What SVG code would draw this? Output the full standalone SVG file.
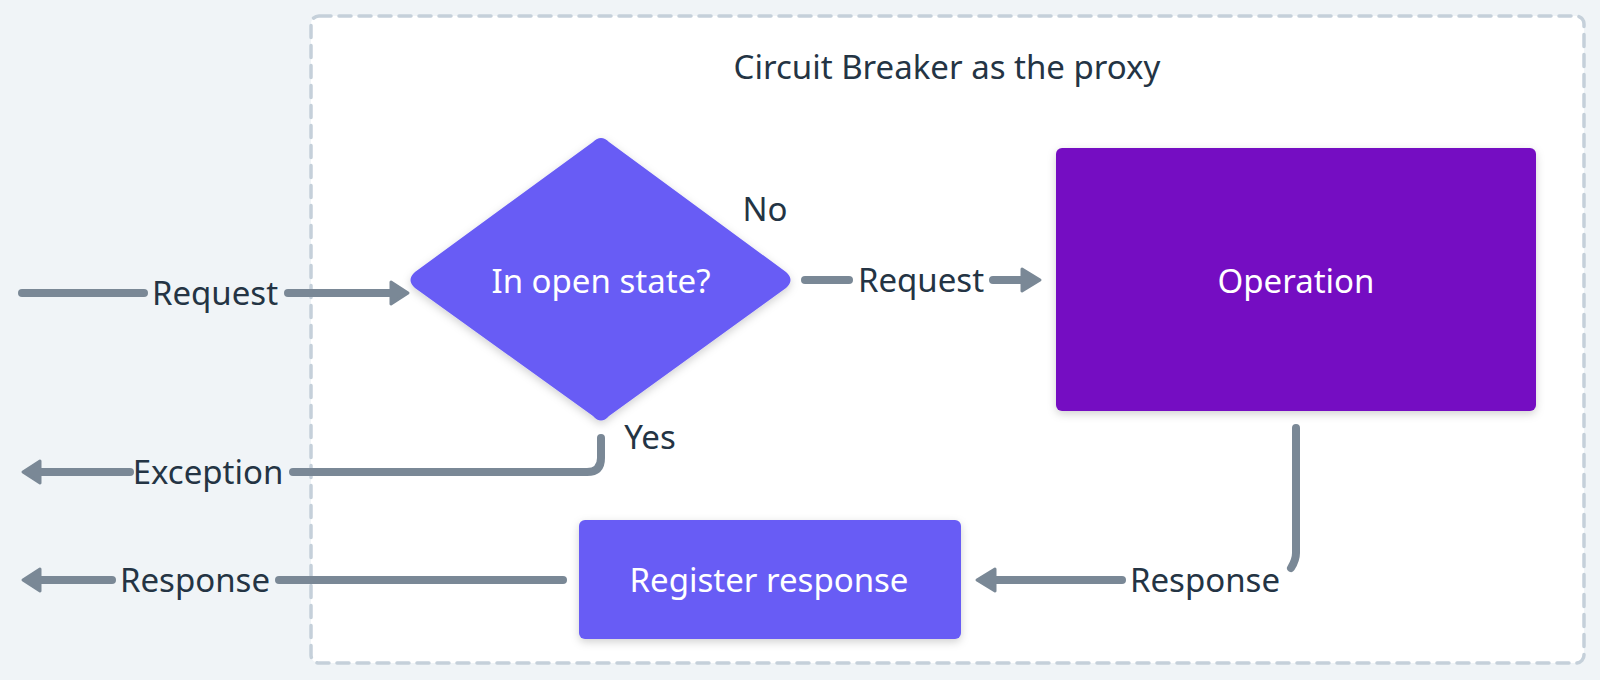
<svg xmlns="http://www.w3.org/2000/svg" width="1600" height="680" viewBox="0 0 1600 680">
<style>
.lbl{font-family:"Noto Sans","Liberation Sans",sans-serif;font-size:33px;fill:#243444;}
.ntxt{font-family:"Noto Sans","Liberation Sans",sans-serif;font-size:33px;fill:#ffffff;}
.ln{fill:none;stroke:#7a8896;stroke-width:8;stroke-linecap:round;stroke-linejoin:round;}
.ah{fill:#7a8896;stroke:#7a8896;stroke-width:3;stroke-linejoin:round;}
</style>
<defs>
<filter id="sh" x="-20%" y="-20%" width="140%" height="140%">
<feDropShadow dx="0" dy="3" stdDeviation="4" flood-color="#000" flood-opacity="0.18"/>
</filter>
</defs>
<rect width="1600" height="680" fill="#f0f4f7"/>
<g id="container">
<rect x="311" y="16" width="1273" height="647" rx="8" fill="#ffffff" stroke="#c5d0da" stroke-width="3.5" stroke-dasharray="12 8" stroke-linecap="round"/>
<text class="lbl" x="947" y="79" text-anchor="middle">Circuit Breaker as the proxy</text>
</g>
<g id="decision">
<path d="M593,142 Q601,134 609,142 L786,272 Q795,280 786,288 L609,416 Q601,425 593,416 L415,288 Q406,280 415,272 Z" fill="#675cf5" filter="url(#sh)"/>
<text class="ntxt" x="601" y="293" text-anchor="middle">In open state?</text>
</g>
<g id="operation">
<rect x="1056" y="148" width="480" height="263" rx="6" fill="#7510c2" filter="url(#sh)"/>
<text class="ntxt" x="1296" y="293" text-anchor="middle">Operation</text>
</g>
<g id="register">
<rect x="579" y="520" width="382" height="119" rx="6" fill="#675cf5" filter="url(#sh)"/>
<text class="ntxt" x="769" y="592" text-anchor="middle">Register response</text>
</g>
<g id="connectors">
<line class="ln" x1="22" y1="293" x2="144" y2="293"/>
<line class="ln" x1="288" y1="293" x2="391" y2="293"/>
<path class="ah" d="M391,282 L408,293 L391,304 Z"/>
<text class="lbl" x="215" y="305" text-anchor="middle">Request</text>

<line class="ln" x1="805" y1="280" x2="849" y2="280"/>
<line class="ln" x1="993" y1="280" x2="1022" y2="280"/>
<path class="ah" d="M1022,269 L1040,280 L1022,291 Z"/>
<text class="lbl" x="921" y="292" text-anchor="middle">Request</text>
<text class="lbl" x="765" y="221" text-anchor="middle">No</text>

<path class="ln" d="M601,438 L601,458 Q601,472 587,472 L293,472"/>
<line class="ln" x1="130" y1="472" x2="40" y2="472"/>
<path class="ah" d="M40,461 L23,472 L40,483 Z"/>
<text class="lbl" x="208" y="484" text-anchor="middle">Exception</text>
<text class="lbl" x="650" y="449" text-anchor="middle">Yes</text>

<path class="ln" d="M1296,428 L1296,553 Q1296,560 1291,568"/>
<line class="ln" x1="1122" y1="580" x2="995" y2="580"/>
<path class="ah" d="M995,569 L977,580 L995,591 Z"/>
<text class="lbl" x="1205" y="592" text-anchor="middle">Response</text>

<line class="ln" x1="563" y1="580" x2="279" y2="580"/>
<line class="ln" x1="112" y1="580" x2="40" y2="580"/>
<path class="ah" d="M40,569 L23,580 L40,591 Z"/>
<text class="lbl" x="195" y="592" text-anchor="middle">Response</text>
</g>
</svg>
